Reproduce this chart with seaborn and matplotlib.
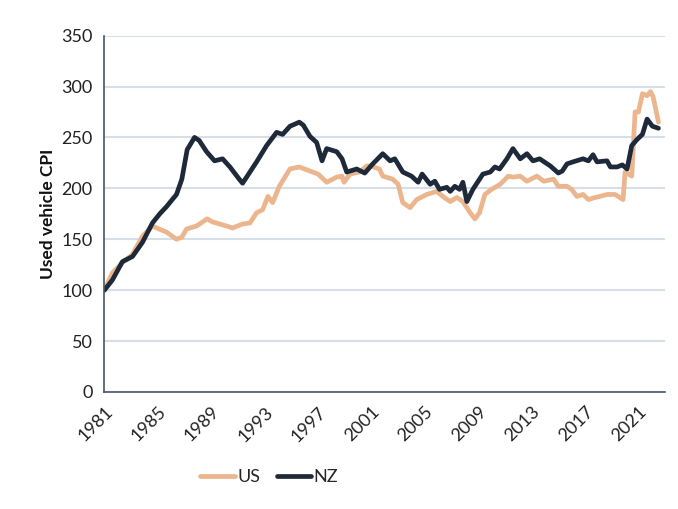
import numpy as np
import pandas as pd
import matplotlib
matplotlib.use("Agg")
import matplotlib.pyplot as plt
import seaborn as sns

# Used vehicle CPI (index, 1981 = 100)
nz_year = [1981.0, 1981.6, 1982.35, 1983.1, 1983.85, 1984.6, 1985.15, 1985.65, 1986.4, 1986.8,
           1987.2, 1987.75, 1988.1, 1988.65, 1989.25, 1989.85, 1990.4, 1991.1, 1991.35, 1991.9,
           1992.4, 1993.15, 1993.9, 1994.35, 1994.9, 1995.6, 1995.9, 1996.4, 1996.9, 1997.3,
           1997.65, 1998.4, 1998.8, 1999.15, 1999.9, 2000.5, 2001.1, 2001.85, 2002.4, 2002.75,
           2003.35, 2004.0, 2004.5, 2004.8, 2005.4, 2005.75, 2006.1, 2006.65, 2006.9, 2007.25,
           2007.6, 2007.85, 2008.15, 2008.6, 2009.35, 2009.9, 2010.25, 2010.6, 2011.15, 2011.6,
           2012.15, 2012.65, 2013.1, 2013.6, 2014.4, 2015.0, 2015.3, 2015.65, 2016.1, 2016.85,
           2017.25, 2017.6, 2017.9, 2018.65, 2018.9, 2019.4, 2019.8, 2020.15, 2020.5, 2020.9,
           2021.3, 2021.65, 2022.05, 2022.5]
nz_cpi = [100, 110, 128, 133, 147, 166, 175, 182, 194, 209,
          238, 250, 247, 236, 227, 229, 221, 209, 205, 216,
          226, 242, 255, 253, 261, 265, 262, 251, 245, 227,
          239, 236, 229, 216, 219, 215, 224, 234, 227, 229,
          216, 212, 206, 214, 204, 207, 199, 201, 197, 202,
          199, 206, 187, 199, 214, 216, 221, 219, 229, 239,
          229, 234, 227, 229, 222, 215, 217, 224, 226, 229,
          227, 233, 226, 227, 221, 221, 223, 219, 242, 248,
          253, 268, 261, 259]

us_year = [1981.0, 1981.6, 1982.35, 1983.1, 1983.85, 1984.6, 1985.1, 1985.65, 1986.4, 1986.8,
           1987.15, 1987.9, 1988.7, 1989.1, 1990.15, 1990.6, 1991.35, 1991.9, 1992.4, 1992.85,
           1993.25, 1993.6, 1994.1, 1994.9, 1995.6, 1996.4, 1997.0, 1997.65, 1998.4, 1998.8,
           1998.95, 1999.4, 2000.1, 2000.65, 2000.9, 2001.6, 2001.85, 2002.6, 2003.0, 2003.35,
           2003.9, 2004.4, 2005.15, 2005.9, 2006.35, 2006.9, 2007.4, 2007.85, 2008.4, 2008.75,
           2009.1, 2009.5, 2010.0, 2010.65, 2011.25, 2011.6, 2012.15, 2012.65, 2013.4, 2013.9,
           2014.65, 2015.0, 2015.65, 2016.0, 2016.4, 2016.85, 2017.25, 2017.75, 2018.1, 2018.65,
           2019.25, 2019.6, 2019.85, 2020.0, 2020.5, 2020.75, 2021.0, 2021.3, 2021.65, 2021.9,
           2022.1, 2022.5]
us_cpi = [100, 117, 127, 135, 153, 163, 160, 157, 150, 152,
          160, 163, 170, 167, 163, 161, 165, 166, 176, 179,
          192, 186, 202, 219, 221, 217, 214, 206, 211, 212,
          206, 214, 216, 222, 222, 219, 212, 209, 204, 186,
          181, 189, 194, 197, 192, 187, 191, 187, 176, 170,
          176, 194, 199, 204, 212, 211, 212, 207, 212, 207,
          209, 202, 202, 199, 192, 194, 189, 191, 192, 194,
          194, 191, 189, 216, 212, 275, 275, 293, 291, 295,
          290, 265]

series = ["US", "NZ"]
colors = {"US": "#EBB68D", "NZ": "#1E2A3A"}

df = pd.concat([
    pd.DataFrame({"year": us_year, "cpi": us_cpi, "country": "US"}),
    pd.DataFrame({"year": nz_year, "cpi": nz_cpi, "country": "NZ"}),
])

sns.set_style("white")
plt.rcParams["font.family"] = ["Lato", "DejaVu Sans"]

fig = plt.figure(figsize=(6.78, 5.09), dpi=100)
ax = fig.add_axes([0.154, 0.23, 0.827, 0.70])

sns.lineplot(data=df, x="year", y="cpi", hue="country", hue_order=series,
             palette=colors, linewidth=3.4, estimator=None, sort=False, ax=ax)

ax.set_xlim(1981, 2023)
ax.set_ylim(0, 350)
ax.set_yticks(range(0, 351, 50))
ax.set_xticks(range(1981, 2022, 4))
ax.set_xticklabels([str(y) for y in range(1981, 2022, 4)], rotation=45,
                   ha="right", rotation_mode="anchor")
ax.yaxis.grid(True, color="#D5DEE9", linewidth=1.5)
ax.set_axisbelow(True)

for s in ["top", "right"]:
    ax.spines[s].set_visible(False)
for s in ["left", "bottom"]:
    ax.spines[s].set_color("#4A5566")
    ax.spines[s].set_linewidth(1.2)
ax.tick_params(axis="both", direction="out", length=5, width=1.2, color="#4A5566",
               labelsize=13, labelcolor="#222222")

ax.set_xlabel("")
ax.set_ylabel("Used vehicle CPI", fontsize=12.5, fontweight="bold", color="#111111")

ax.legend(loc="center", bbox_to_anchor=(0.294, -0.24), ncol=2, frameon=False,
          fontsize=13, handlelength=1.9, handletextpad=0.15, columnspacing=0.9)

fig.savefig("out.png", dpi=100)
